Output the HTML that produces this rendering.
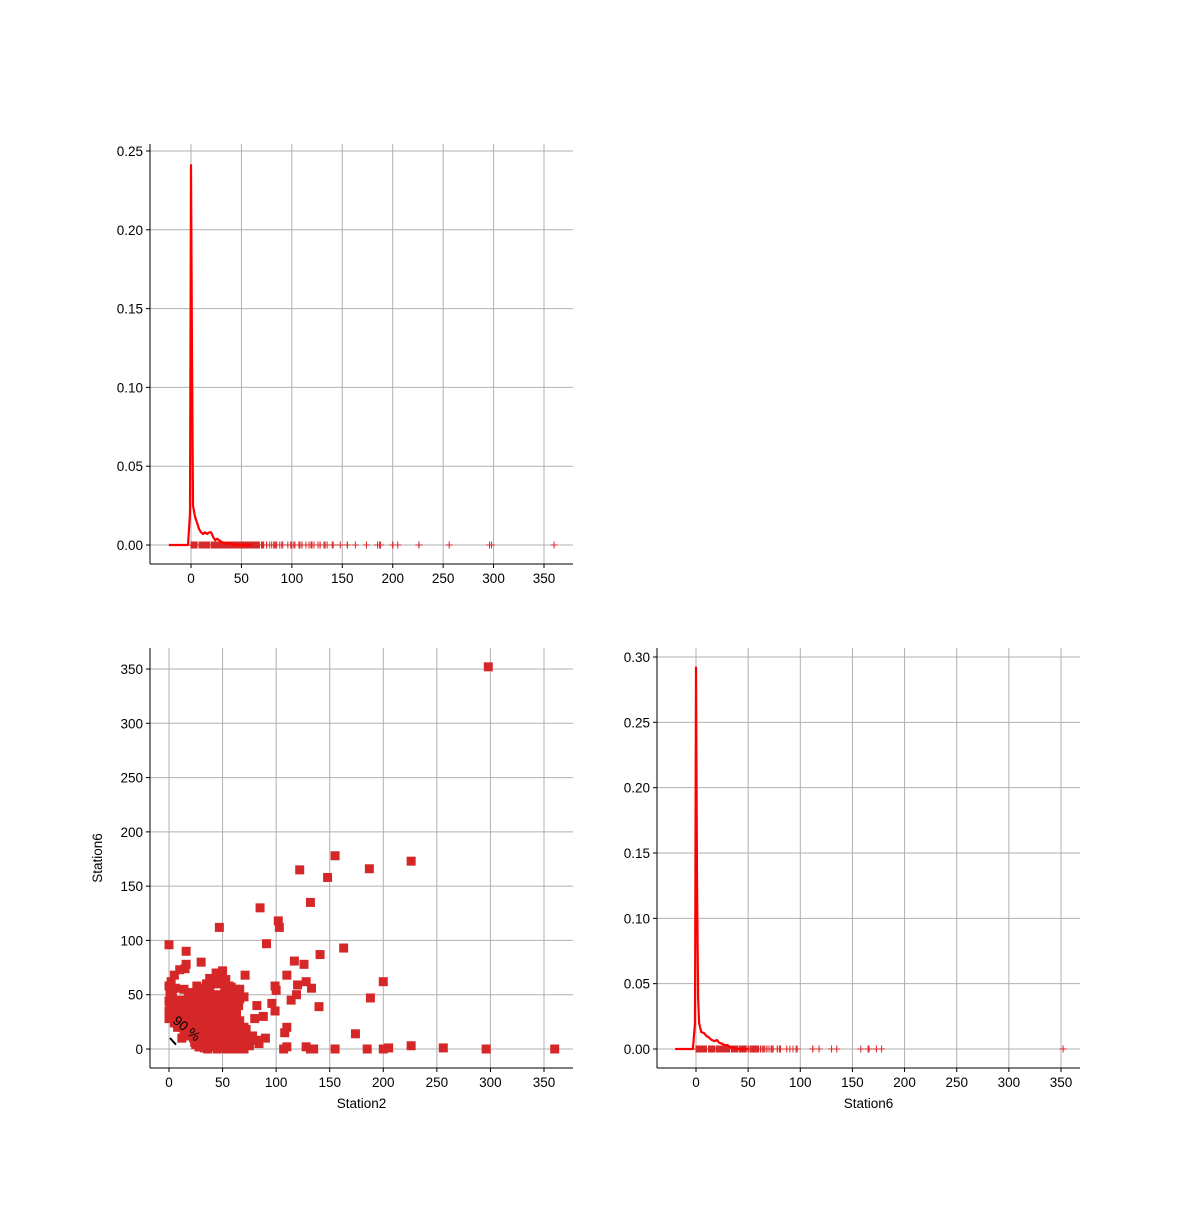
<!DOCTYPE html>
<html><head><meta charset="utf-8"><style>
body{margin:0;background:#fff;}
svg text{font-family:"Liberation Sans","DejaVu Sans",sans-serif;font-size:13.5px;fill:#000;}
</style></head><body>
<svg id="c" width="1200" height="1200" xmlns="http://www.w3.org/2000/svg"></svg>
<script>
// scatter data (Station2, Station6)
const station2 = [298,155,226,122,187,148,85,132,102,103,47,91,0,163,16,141,117,126,16,30,71,110,200,128,120,133,99,100,119,114,188,140,99,96,82,174,108,110,107,110,128,132,135,155,185,200,205,226,256,296,360,66,62,60,80,83,84,88,90,70,75,70,65,60,55,
0,0,1,2,3,5,6,8,10,12,14,15,18,20,22,25,28,30,32,35,38,40,42,45,48,50,52,55,58,
2,4,6,9,12,15,18,21,24,27,30,33,36,39,42,45,48,51,54,57,
5,8,11,14,17,20,23,26,29,32,35,38,41,44,47,50,53,56,
20,23,26,29,32,35,38,41,44,47,50,53,56,59,62,
25,28,31,34,37,40,43,46,49,52,55,58,61,64,67,
30,33,36,39,42,45,48,51,54,57,60,63,
35,38,41,44,47,50,53,56,
12,18,24,30,36,42,48,54,60,
38,45,52,58,64,72,
0,2,4,1,3,0,2,5,1,3,
15,20,25,30,35,40,45,50,55,60,65,
18,23,28,33,38,43,48,53,58,63,
16,21,26,31,36,41,46,51,56,61,66,
20,25,30,35,40,45,50,55,60,65,70,
22,27,32,37,42,47,52,57,62,67,72,
25,30,35,40,45,50,55,60,65,70,75,
28,33,38,43,48,53,58,63,68,
12,14,10,16,13,
30,38,46,54,62,70,78,
26,34,42,50,58,66];
const station6 = [352,178,173,165,166,158,130,135,118,112,112,97,96,93,90,87,81,78,78,80,68,68,62,62,59,56,58,54,50,45,47,39,35,42,40,14,15,20,0,2,2,0,0,0,0,0,1,3,1,0,0,46,31,50,28,8,5,30,10,20,5,0,0,2,3,
44,58,52,62,48,68,56,45,73,40,55,74,50,46,52,44,48,42,38,36,50,40,44,48,36,42,30,46,40,
30,34,38,32,28,34,30,35,26,32,28,34,30,26,32,28,24,30,22,26,
24,20,22,18,24,20,22,16,20,18,22,16,18,20,14,18,16,20,
12,10,14,12,8,10,12,10,8,12,10,6,8,12,10,
4,6,8,4,6,2,8,4,6,4,2,6,4,8,6,
2,4,0,2,4,0,2,4,0,2,0,4,
60,65,62,70,66,72,64,58,
10,12,6,4,2,14,16,14,10,
52,60,56,45,52,18,
35,40,45,50,55,28,32,38,42,48,
45,46,44,47,45,44,46,45,44,43,40,
38,39,37,38,36,38,37,36,35,34,
31,32,30,31,30,29,31,30,28,27,26,
24,25,23,24,25,24,23,22,21,20,18,
16,17,15,16,17,16,15,14,13,12,10,
8,9,7,8,9,8,7,6,5,4,3,
2,1,3,2,1,2,1,0,2,
20,26,32,24,30,
52,54,50,53,55,48,12,
58,56,60,62,57,55];
// KDE curves
const kde2X = [-22,-10,-3,-1,0,1,2,4,6,8,10,12,14,16,18,20,22,24,26,28,30,34,38,45,60];
const kde2Y = [0,0,0,0.02,0.241,0.12,0.025,0.018,0.014,0.01,0.008,0.007,0.008,0.007,0.008,0.008,0.005,0.003,0.004,0.003,0.002,0.001,0.001,0,0];
const kde6X = [-20,-10,-3,-1,0,1,2,3,5,8,10,12,15,18,20,22,25,28,30,34,40,50];
const kde6Y = [0,0,0,0.02,0.292,0.13,0.04,0.02,0.013,0.012,0.01,0.009,0.007,0.006,0.007,0.005,0.004,0.003,0.003,0.001,0,0];
const xTicks = [0,50,100,150,200,250,300,350];
const yTicksScatter = [0,50,100,150,200,250,300,350];
const yTicksKde2 = [0,0.05,0.10,0.15,0.20,0.25];
const yTicksKde6 = [0,0.05,0.10,0.15,0.20,0.25,0.30];

const NS="http://www.w3.org/2000/svg";
const svg=document.getElementById('c');
function mk(t,a,p){const e=document.createElementNS(NS,t);for(const k in a)e.setAttribute(k,a[k]);(p||svg).appendChild(e);return e;}
function scale(d0,d1,r0,r1){return v=>r0+(v-d0)/(d1-d0)*(r1-r0);}

function axes(name,L,T,R,B,sx,sy,xt,yt,yfmt,xlabel,ylabel){
  const g=mk('g',{});
  
  
  xt.forEach(v=>{const x=sx(v);
    const l=mk('line',{x1:x,x2:x,y1:T,y2:B,stroke:'#b0b0b0','stroke-width':1},g);
    
    mk('line',{x1:x,x2:x,y1:B,y2:B+4,stroke:'#000'},g);
    const t=mk('text',{x:x,y:B+19,'text-anchor':'middle'},g);t.textContent=v;
    });
  yt.forEach(v=>{const y=sy(v);
    const l=mk('line',{x1:L,x2:R,y1:y,y2:y,stroke:'#b0b0b0','stroke-width':1},g);
    
    mk('line',{x1:L-4,x2:L,y1:y,y2:y,stroke:'#000'},g);
    const t=mk('text',{x:L-7,y:y+5,'text-anchor':'end'},g);t.textContent=yfmt(v);
    });
  const s1=mk('line',{x1:L,x2:L,y1:T,y2:B,stroke:'#000','stroke-width':1},g);
  
  const s2=mk('line',{x1:L,x2:R,y1:B,y2:B,stroke:'#000','stroke-width':1},g);
  
  if(xlabel){const t=mk('text',{x:(L+R)/2,y:B+40,'text-anchor':'middle'},g);t.textContent=xlabel;
    }
  if(ylabel){const cx=L-48,cy=(T+B)/2;const t=mk('text',{x:cx,y:cy,'text-anchor':'middle',transform:`rotate(-90 ${cx} ${cy})`},g);t.textContent=ylabel;
    }
  return g;
}
function kde(name,X,Y,sx,sy,vals,rugY){
  const g=mk('g',{});
  
  vals.forEach(v=>{const x=sx(v),y=rugY;
    const p=mk('path',{d:`M${x-3.5},${y}H${x+3.5}M${x},${y-3.5}V${y+3.5}`,stroke:'#d62728','stroke-width':1},g);
    });
  const d=X.map((v,i)=>(i?'L':'M')+sx(v).toFixed(1)+','+sy(Y[i]).toFixed(1)).join('');
  const p=mk('path',{d:d,fill:'none',stroke:'#ff0000','stroke-width':2.2,'stroke-linejoin':'round'},g);
  
}
const f2=v=>v.toFixed(2);
// top-left
{const L=150,T=144,R=573,B=564;
 const sx=scale(0,350,191,544),sy=scale(0,0.25,545,151);
 axes('station2-kde-axes',L,T,R,B,sx,sy,xTicks,yTicksKde2,f2,null,null);
 kde('station2-kde',kde2X,kde2Y,sx,sy,station2,sy(0));}
// bottom-left scatter
{const L=150,T=648,R=573,B=1068;
 const sx=scale(0,350,169,544),sy=scale(0,350,1049,669);
 axes('scatter-axes',L,T,R,B,sx,sy,xTicks,yTicksScatter,v=>v,'Station2','Station6');
 const g=mk('g',{});
 station2.forEach((v,i)=>{const r=mk('rect',{x:sx(v)-4.5,y:sy(station6[i])-4.5,width:9,height:9,fill:'#d62728'},g);
   });
 const c=mk('line',{x1:170,y1:1038,x2:178,y2:1047,stroke:'#000','stroke-width':2,'stroke-dasharray':'9,3'});
 
 const t=mk('text',{x:172,y:1022,transform:'rotate(40 172 1022)','font-size':'12px'});t.textContent='90 %';
 }
// bottom-right
{const L=657,T=648,R=1080,B=1068;
 const sx=scale(0,350,696,1061),sy=scale(0,0.30,1049,657);
 axes('station6-kde-axes',L,T,R,B,sx,sy,xTicks,yTicksKde6,f2,'Station6',null);
 kde('station6-kde',kde6X,kde6Y,sx,sy,station6,sy(0));}
</script>
</body></html>
